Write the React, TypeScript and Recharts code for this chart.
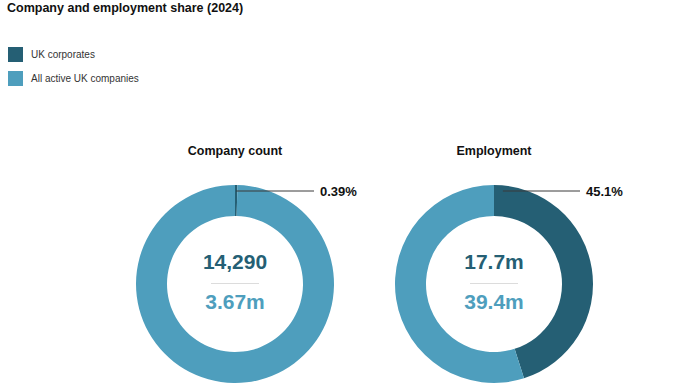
import { PieChart, Pie, Cell } from 'recharts';

const FONT = '"Liberation Sans", Arial, Helvetica, sans-serif';
const DARK = '#255F74';
const LIGHT = '#4E9EBD';

// data
const seriesNames = ['UK corporates', 'All active UK companies'];
const panelTitles = ['Company count', 'Employment'];
const corporateShare = [0.39, 45.1];
const otherShare = [99.61, 54.9];
const shareLabels = ['0.39%', '45.1%'];
const corporateTotals = ['14,290', '17.7m'];
const allTotals = ['3.67m', '39.4m'];

const centersX = [235, 494];
const leaderEnds = [79, 86];
const CY = 284;
const OUTER = 99;
const INNER = 68;
const RAD = Math.PI / 180;

const renderShareLabel = (text: string, end: number) => (props: any) => {
  const { cx, cy, outerRadius, startAngle, endAngle, index } = props;
  if (index !== 0) return null;
  const span = Math.abs(endAngle - startAngle);
  const ang = startAngle - Math.min(span / 2, 5.5);
  const r = outerRadius - 6;
  const x0 = cx + r * Math.cos(-ang * RAD);
  const y0 = cy - r;
  const x1 = cx + end;
  return (
    <g>
      <line x1={x0} y1={y0} x2={x1} y2={y0} stroke="#3a3a3a" strokeWidth={1} />
      <text x={x1 + 6} y={y0} dy={4.5} fill="#111" fontFamily={FONT} fontSize={13} fontWeight={700}>
        {text}
      </text>
    </g>
  );
};

export default function App() {
  return (
    <div style={{ position: 'relative', width: 696, height: 390, background: '#fff', fontFamily: FONT, overflow: 'hidden' }}>
      <style>{'body{margin:0}'}</style>
      <div style={{ position: 'absolute', left: 7, top: 1, fontSize: 12.5, fontWeight: 700, color: '#111' }}>
        Company and employment share (2024)
      </div>

      {/* legend */}
      {seriesNames.map((name, i) => (
        <div key={name} style={{ position: 'absolute', left: 8, top: 47, marginTop: i * 24, display: 'flex', alignItems: 'center' }}>
          <div style={{ width: 15, height: 15, background: i === 0 ? DARK : LIGHT }} />
          <span style={{ marginLeft: 8, fontSize: 10, color: '#333' }}>{name}</span>
        </div>
      ))}

      <PieChart width={696} height={390} margin={{ top: 0, right: 0, bottom: 0, left: 0 }} style={{ position: 'absolute', left: 0, top: 0 }}>
        {panelTitles.map((t, i) => (
          <Pie
            key={t}
            data={[
              { name: seriesNames[0], value: corporateShare[i] },
              { name: seriesNames[1], value: otherShare[i] },
            ]}
            dataKey="value"
            cx={centersX[i]}
            cy={CY}
            innerRadius={INNER}
            outerRadius={OUTER}
            startAngle={90}
            endAngle={-270}
            stroke="none"
            labelLine={false}
            label={renderShareLabel(shareLabels[i], leaderEnds[i])}
            isAnimationActive={false}
          >
            <Cell fill={DARK} />
            <Cell fill={LIGHT} />
          </Pie>
        ))}
      </PieChart>

      {panelTitles.map((t, i) => (
        <div key={t}>
          <div style={{ position: 'absolute', left: centersX[i] - 80, width: 160, top: 144, textAlign: 'center', fontSize: 12.5, fontWeight: 700, color: '#111' }}>
            {t}
          </div>
          <div style={{ position: 'absolute', left: centersX[i] - 60, width: 120, top: 250, textAlign: 'center', fontSize: 21, fontWeight: 700, color: DARK }}>
            {corporateTotals[i]}
          </div>
          <div style={{ position: 'absolute', left: centersX[i] - 24, width: 48, top: 283, height: 1, background: '#dcdcdc' }} />
          <div style={{ position: 'absolute', left: centersX[i] - 60, width: 120, top: 290, textAlign: 'center', fontSize: 21, fontWeight: 700, color: LIGHT }}>
            {allTotals[i]}
          </div>
        </div>
      ))}
    </div>
  );
}
